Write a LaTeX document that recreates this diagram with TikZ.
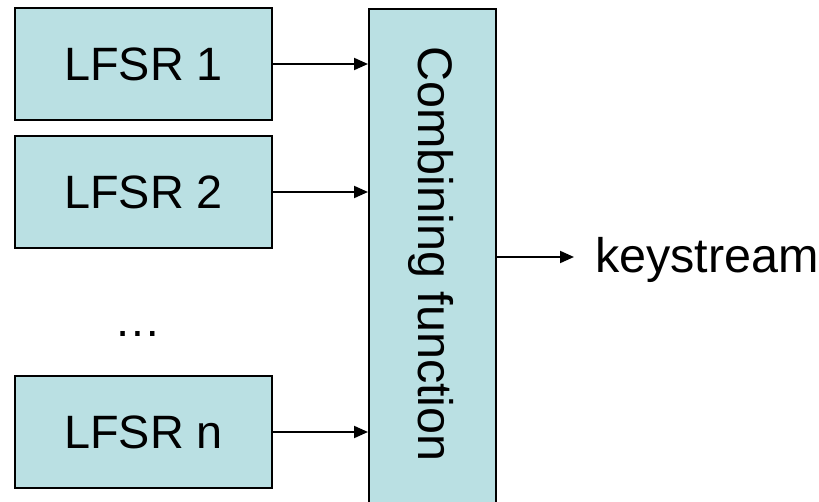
\documentclass[tikz,border=0pt]{standalone}
\usepackage{fontspec}
\setmainfont{Liberation Sans}
\usetikzlibrary{arrows.meta}
\definecolor{boxfill}{RGB}{186,224,227}
\tikzset{
  lfsrbox/.style={draw=black, line width=1.6pt, fill=boxfill, minimum width=257pt, minimum height=112pt, inner sep=0pt, font=\fontsize{46.8}{50}\selectfont},
  conn/.style={line width=2pt, -{Triangle[length=14pt,width=12pt]}},
  lbl/.style={font=\fontsize{48.5}{52}\selectfont, inner sep=0pt}
}
\begin{document}
\begin{tikzpicture}[x=1pt,y=-1pt]
\useasboundingbox (0,0) rectangle (819,502);
\node[lfsrbox] (l1) at (143.5,64) {LFSR 1};
\node[lfsrbox] (l2) at (143.5,192) {LFSR 2};
\node[lfsrbox] (ln) at (143.5,432) {LFSR n};
\node[lbl, anchor=base, font=\fontsize{46.8}{50}\selectfont] (dots) at (138,337) {\ldots};
\node[draw=black, line width=1.6pt, fill=boxfill, minimum width=127pt, minimum height=498pt, inner sep=0pt, anchor=north west] (comb) at (368,8) {};
\node[lbl, rotate=-90] (ctext) at (431,254) {Combining function};
\draw[conn] (l1.east) -- (l1.east -| comb.west);
\draw[conn] (l2.east) -- (l2.east -| comb.west);
\draw[conn] (ln.east) -- (ln.east -| comb.west);
\node[lbl, anchor=base west] (ks) at (595,273) {keystream};
\coordinate (ksin) at (574,257);
\draw[conn] (comb.east |- ksin) -- (ksin);
\end{tikzpicture}
\end{document}
